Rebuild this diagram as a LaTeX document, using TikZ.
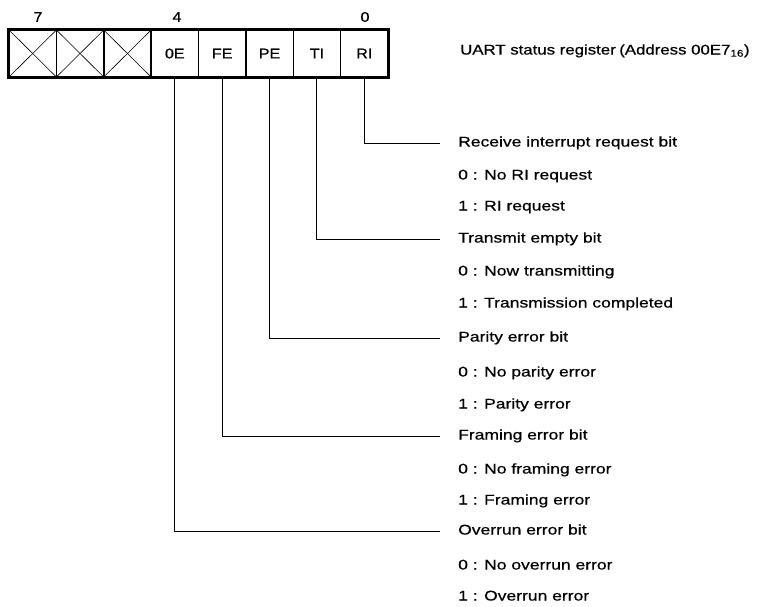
\documentclass[tikz,border=0pt]{standalone}
\usepackage{fontspec}
\setmainfont[FakeStretch=1.25,FakeBold=0.6]{Liberation Sans}
\newfontfamily\titlefont[FakeStretch=1.2,FakeBold=0.6]{Liberation Sans}
\newfontfamily\cellfont[FakeStretch=1.15,FakeBold=0.8]{Liberation Sans}
\begin{document}
\begin{tikzpicture}[x=1pt,y=-1pt,
  cell/.style={draw, line width=1.5pt, minimum width=47.375pt, minimum height=47pt, inner sep=0pt},
  celltxt/.style={font=\cellfont\fontsize{14}{14}\selectfont},
  bitnum/.style={font=\cellfont\fontsize{14}{14}\selectfont},
  lbl/.style={anchor=west, inner xsep=0pt, inner ysep=0pt, text height=10pt, text depth=3pt, font=\fontsize{14}{14}\selectfont},
  conn/.style={line width=1pt},
  crossline/.style={line width=0.6pt}]
\useasboundingbox (0,0) rectangle (758,606);
% register cells
\foreach \i in {0,...,7} {
  \node[cell] (c\i) at ({9+47.375*(\i+0.5)}, 53.5) {};
}
\draw[line width=2.4pt] (c0.north west) rectangle (c7.south east);
\foreach \i in {0,1,2} {
  \draw[crossline] (c\i.north west) -- (c\i.south east);
  \draw[crossline] (c\i.south west) -- (c\i.north east);
}
\node[celltxt] (t3) at (c3) {0E};
\node[celltxt] (t4) at (c4) {FE};
\node[celltxt] (t5) at (c5) {PE};
\node[celltxt] (t6) at (c6) {TI};
\node[celltxt] (t7) at (c7) {RI};
% bit numbers
\node[bitnum] (b7) at (38,17) {7};
\node[bitnum] (b4) at (177,17) {4};
\node[bitnum] (b0) at (365,17) {0};
% title
\node[lbl, font=\titlefont\fontsize{14}{14}\selectfont] (title) at (460,51) {UART status register\hspace{0.25em}(Address 00E7\textsubscript{16})};
% descriptions
\node[lbl] (hri) at (458,143) {Receive interrupt request bit};
\node[lbl] (ri0) at (458,176) {0 : No RI request};
\node[lbl] (ri1) at (458,207) {1 : RI request};
\node[lbl] (hti) at (458,239) {Transmit empty bit};
\node[lbl] (ti0) at (458,272) {0 : Now transmitting};
\node[lbl] (ti1) at (458,304) {1 : Transmission completed};
\node[lbl] (hpe) at (458,338) {Parity error bit};
\node[lbl] (pe0) at (458,373) {0 : No parity error};
\node[lbl] (pe1) at (458,405) {1 : Parity error};
\node[lbl] (hfe) at (458,436) {Framing error bit};
\node[lbl] (fe0) at (458,470) {0 : No framing error};
\node[lbl] (fe1) at (458,501) {1 : Framing error};
\node[lbl] (hoe) at (458,531) {Overrun error bit};
\node[lbl] (oe0) at (458,566) {0 : No overrun error};
\node[lbl] (oe1) at (458,597) {1 : Overrun error};
% connectors
\draw[conn] (c7.south) |- ([xshift=-18pt]hri.west);
\draw[conn] (c6.south) |- ([xshift=-18pt]hti.west);
\draw[conn] (c5.south) |- ([xshift=-18pt]hpe.west);
\draw[conn] (c4.south) |- ([xshift=-18pt]hfe.west);
\draw[conn] (c3.south) |- ([xshift=-18pt]hoe.west);
\end{tikzpicture}
\end{document}
